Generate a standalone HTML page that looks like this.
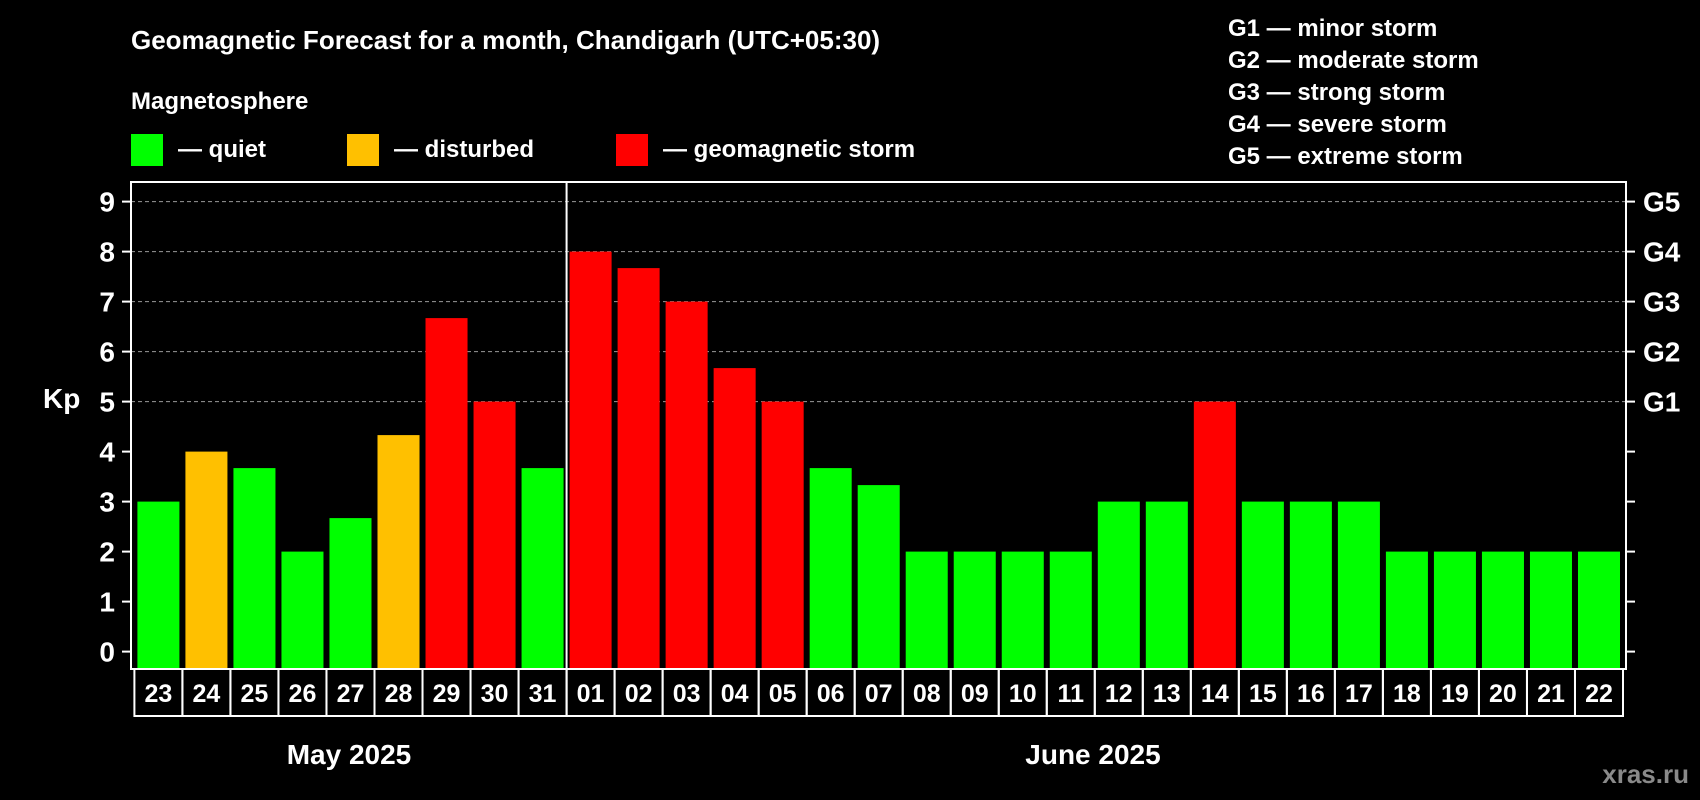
<!DOCTYPE html>
<html><head><meta charset="utf-8"><style>
body{margin:0;background:#000;}
svg{display:block;font-family:"Liberation Sans",Arial,sans-serif;font-weight:bold;}
</style></head><body>
<svg id="c" width="1700" height="800" viewBox="0 0 1700 800">
<rect width="1700" height="800" fill="#000"/>
<text x="131" y="49" fill="#fff" font-size="26">Geomagnetic Forecast for a month, Chandigarh (UTC+05:30)</text>
<text x="131" y="109" fill="#fff" font-size="24">Magnetosphere</text>
<rect x="131" y="134" width="32" height="32" fill="#00ff00"/>
<text x="178" y="157" fill="#fff" font-size="24">— quiet</text>
<rect x="347" y="134" width="32" height="32" fill="#ffc000"/>
<text x="394" y="157" fill="#fff" font-size="24">— disturbed</text>
<rect x="616" y="134" width="32" height="32" fill="#ff0000"/>
<text x="663" y="157" fill="#fff" font-size="24">— geomagnetic storm</text>
<g font-size="24" fill="#fff">
<text x="1228" y="36">G1 — minor storm</text>
<text x="1228" y="68">G2 — moderate storm</text>
<text x="1228" y="100">G3 — strong storm</text>
<text x="1228" y="132">G4 — severe storm</text>
<text x="1228" y="164">G5 — extreme storm</text>
</g>
<text x="43" y="408" fill="#fff" font-size="28">Kp</text>
<g id="plot"></g>
<text x="349" y="764" fill="#fff" font-size="28" text-anchor="middle">May 2025</text>
<text x="1093" y="764" fill="#fff" font-size="28" text-anchor="middle">June 2025</text>
<text x="1689" y="783" fill="#8a8a8a" font-size="26" text-anchor="end">xras.ru</text>
</svg>
<script>
const days = ["23","24","25","26","27","28","29","30","31","01","02","03","04","05","06","07","08","09","10","11","12","13","14","15","16","17","18","19","20","21","22"];
const kpValues = [3,4,3.67,2,2.67,4.33,6.67,5,3.67,8,7.67,7,5.67,5,3.67,3.33,2,2,2,2,3,3,5,3,3,3,2,2,2,2,2];
const yTicks = [0,1,2,3,4,5,6,7,8,9];
const gLabels = ["","","","","","G1","G2","G3","G4","G5"];
const monthSplit = 9;

const NS="http://www.w3.org/2000/svg";
const g=document.getElementById('plot');
const L=131,R=1626,T=182,B=669,slot0=134.4,slotW=(1623-134.4)/days.length;
const y0=651.6,unit=50;
function yScale(v){return y0-v*unit;}
function xScale(i){return slot0+i*slotW;}
function mk(t,a){const e=document.createElementNS(NS,t);for(const k in a)e.setAttribute(k,a[k]);g.appendChild(e);return e;}
function col(v){return v>=5?"#ff0000":(v>=4?"#ffc000":"#00ff00");}

yTicks.forEach((t,i)=>{
  const y=yScale(t);
  if(t>=5){const l=mk('line',{x1:L,x2:R,y1:y,y2:y,stroke:'#999','stroke-width':1,'stroke-dasharray':'4,3'});
  
  }
  const a=mk('line',{x1:L-9,x2:L,y1:y,y2:y,stroke:'#fff','stroke-width':2});
  
  
  const b=mk('line',{x1:R,x2:R+9,y1:y,y2:y,stroke:'#fff','stroke-width':2});
  
  
  const tx=mk('text',{x:L-16,y:y+10,fill:'#fff','font-size':28,'text-anchor':'end'});
  tx.textContent=t;
  
  
  if(gLabels[i]){const gt=mk('text',{x:R+17,y:y+10,fill:'#fff','font-size':28});
  gt.textContent=gLabels[i];
  
  }
});

kpValues.forEach((v,i)=>{
  const x=xScale(i);
  const r=mk('rect',{x:x+3,y:yScale(v),width:slotW-6,height:B-yScale(v),fill:col(v)});
  
  
  const bx=mk('rect',{x:x,y:B,width:slotW,height:47,fill:'none',stroke:'#fff','stroke-width':2});
  
  
  const t=mk('text',{x:x+slotW/2,y:B+33,fill:'#fff','font-size':25,'text-anchor':'middle'});
  t.textContent=days[i];
  
  
});
const fr=mk('rect',{x:L,y:T,width:R-L,height:B-T,fill:'none',stroke:'#fff','stroke-width':2});


const dx=xScale(monthSplit);
const dv=mk('line',{x1:dx,x2:dx,y1:T,y2:B+47,stroke:'#fff','stroke-width':2});


</script>
</body></html>
